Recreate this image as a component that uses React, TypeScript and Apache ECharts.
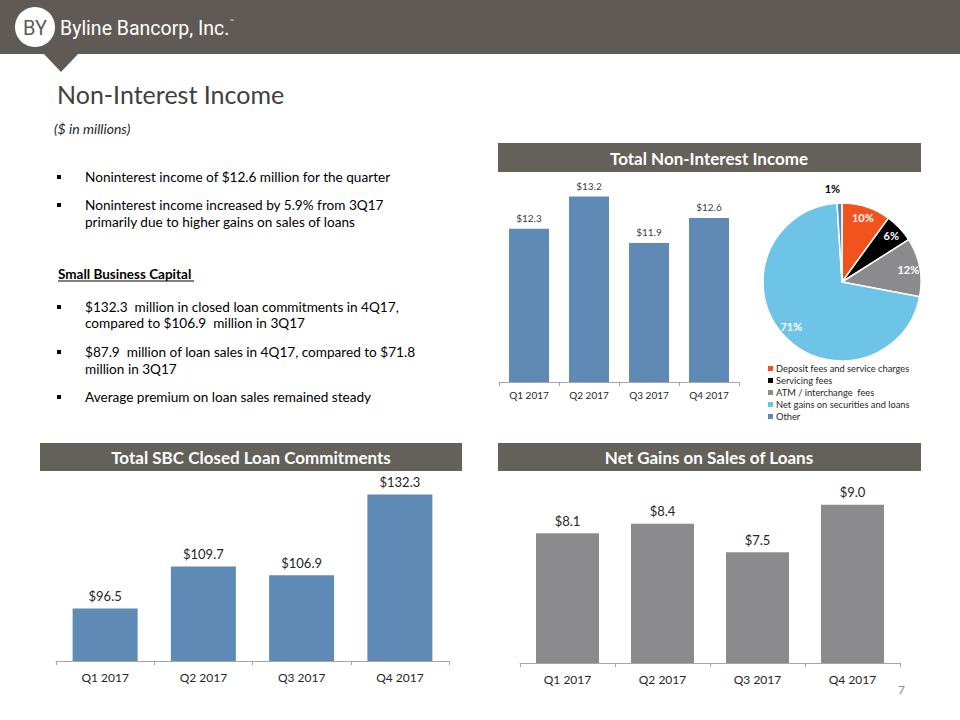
import React, { useEffect, useRef } from "react";
import * as echarts from "echarts";

const quarters = ["Q1 2017", "Q2 2017", "Q3 2017", "Q4 2017"];
const totalNonInterest = [12.3, 13.2, 11.9, 12.6];
const sbcCommitments = [96.5, 109.7, 106.9, 132.3];
const netGainsLoans = [8.1, 8.4, 7.5, 9.0];

const mixNames = [
  "Deposit fees and service charges",
  "Servicing fees",
  "ATM / interchange  fees",
  "Net gains on securities and loans",
  "Other",
];
const mixPct = [10, 6, 12, 71, 1];
const mixColors = ["#f2521b", "#000000", "#8b8b8d", "#6ec4e6", "#5e88b4"];

const bulletLines = [
  { text: "Noninterest income of $12.6 million for the quarter", y: 177, bullet: true },
  { text: "Noninterest income increased by 5.9% from 3Q17", y: 205, bullet: true },
  { text: "primarily due to higher gains on sales of loans", y: 222, bullet: false },
  { text: "$132.3  million in closed loan commitments in 4Q17,", y: 307, bullet: true },
  { text: "compared to $106.9  million in 3Q17", y: 323, bullet: false },
  { text: "$87.9  million of loan sales in 4Q17, compared to $71.8", y: 352, bullet: true },
  { text: "million in 3Q17", y: 369, bullet: false },
  { text: "Average premium on loan sales remained steady", y: 397, bullet: true },
];

const FONT = "Lato, 'Open Sans', sans-serif";
const HEADER = "#5f5a55";
const BAR_HEAD = "#64605a";
const BLUE = "#5f8ab5";
const GRAY = "#8b8b8d";

export default function App() {
  const ref = useRef<HTMLDivElement>(null);
  useEffect(() => {
    if (!ref.current) return;
    const chart = echarts.init(ref.current, undefined, { renderer: "svg" });

    const money = (p: any) => "$" + Number(p.value).toFixed(1);

    const axisX = (gi: number, fs: number, margin: number) => ({
      type: "category",
      gridIndex: gi,
      data: quarters,
      axisLine: { lineStyle: { color: "#a6a6a6", width: 1 } },
      axisTick: { show: true, length: 4, lineStyle: { color: "#a6a6a6" } },
      axisLabel: { color: "#262626", fontSize: fs, fontFamily: FONT, margin },
    });
    const axisY = (gi: number, min: number, max: number) => ({
      type: "value",
      gridIndex: gi,
      min,
      max,
      show: false,
      splitLine: { show: false },
    });

    const graphic: any[] = [
      { type: "rect", shape: { x: 0, y: 0, width: 960, height: 54 }, style: { fill: HEADER } },
      { type: "polygon", shape: { points: [[43, 53], [79, 53], [61, 72]] }, style: { fill: HEADER } },
      { type: "circle", shape: { cx: 35, cy: 27, r: 20 }, style: { fill: "#ffffff" } },
      {
        type: "text",
        x: 35,
        y: 28,
        style: { text: "BY", fill: HEADER, fontSize: 20, fontFamily: "Roboto, sans-serif", align: "center", verticalAlign: "middle" },
      },
      {
        type: "text",
        x: 60,
        y: 28,
        style: { text: "Byline Bancorp, Inc.", fill: "#ffffff", fontSize: 19.5, fontFamily: "Roboto, sans-serif", verticalAlign: "middle" },
      },
      {
        type: "text",
        x: 230,
        y: 21,
        style: { text: "™", fill: "#ffffff", fontSize: 5, fontFamily: FONT, verticalAlign: "middle" },
      },
      {
        type: "text",
        x: 57,
        y: 94,
        style: { text: "Non-Interest Income", fill: "#404040", fontSize: 25, fontFamily: FONT, verticalAlign: "middle" },
      },
      {
        type: "text",
        x: 54,
        y: 128,
        style: { text: "($ in millions)", fill: "#262626", fontSize: 14, fontStyle: "italic", fontFamily: FONT, verticalAlign: "middle" },
      },
      {
        type: "text",
        x: 58,
        y: 274,
        style: { text: "Small Business Capital", fill: "#000000", fontSize: 13.5, fontWeight: "bold", fontFamily: FONT, verticalAlign: "middle" },
      },
      { type: "line", shape: { x1: 58, y1: 281, x2: 194, y2: 281 }, style: { stroke: "#000000", lineWidth: 1 } },
      // chart header bars
      { type: "rect", shape: { x: 498, y: 143, width: 423, height: 29 }, style: { fill: BAR_HEAD } },
      {
        type: "text",
        x: 709,
        y: 158,
        style: { text: "Total Non-Interest Income", fill: "#ffffff", fontSize: 17, fontWeight: "bold", fontFamily: FONT, align: "center", verticalAlign: "middle" },
      },
      { type: "rect", shape: { x: 40, y: 443, width: 422, height: 28 }, style: { fill: BAR_HEAD } },
      {
        type: "text",
        x: 251,
        y: 457,
        style: { text: "Total SBC Closed Loan Commitments", fill: "#ffffff", fontSize: 17, fontWeight: "bold", fontFamily: FONT, align: "center", verticalAlign: "middle" },
      },
      { type: "rect", shape: { x: 498, y: 443, width: 423, height: 28 }, style: { fill: BAR_HEAD } },
      {
        type: "text",
        x: 709,
        y: 457,
        style: { text: "Net Gains on Sales of Loans", fill: "#ffffff", fontSize: 17, fontWeight: "bold", fontFamily: FONT, align: "center", verticalAlign: "middle" },
      },
      {
        type: "text",
        x: 898,
        y: 689,
        style: { text: "7", fill: "#8c8c8c", fontSize: 12, fontFamily: FONT, verticalAlign: "middle" },
      },
    ];
    bulletLines.forEach((b) => {
      if (b.bullet) {
        graphic.push({ type: "rect", shape: { x: 57, y: b.y - 2, width: 4, height: 4 }, style: { fill: "#000000" } });
      }
      graphic.push({
        type: "text",
        x: 85,
        y: b.y,
        style: { text: b.text, fill: "#000000", fontSize: 13.6, fontFamily: FONT, verticalAlign: "middle" },
      });
    });

    chart.setOption({
      animation: false,
      backgroundColor: "#ffffff",
      textStyle: { fontFamily: FONT },
      grid: [
        { left: 499, right: 221, top: 168, bottom: 338 },
        { left: 56, right: 511, top: 470, bottom: 59 },
        { left: 520, right: 60, top: 473, bottom: 57 },
      ],
      xAxis: [axisX(0, 10, 8), axisX(1, 12, 10), axisX(2, 12, 10)],
      yAxis: [axisY(0, 8, 14), axisY(1, 80, 140), axisY(2, 4, 10)],
      legend: {
        orient: "vertical",
        left: 766,
        top: 363,
        data: mixNames,
        itemWidth: 7,
        itemHeight: 7,
        itemGap: 1,
        icon: "rect",
        padding: 0,
        selectedMode: false,
        textStyle: { fontSize: 9.3, lineHeight: 11, color: "#262626", fontFamily: FONT, padding: [0, 0, 0, -3] },
      },
      series: [
        {
          type: "bar",
          xAxisIndex: 0,
          yAxisIndex: 0,
          data: totalNonInterest,
          barWidth: 40,
          itemStyle: { color: BLUE },
          label: { show: true, position: "top", distance: 6, formatter: money, fontSize: 10, color: "#404040", fontFamily: FONT },
        },
        {
          type: "bar",
          xAxisIndex: 1,
          yAxisIndex: 1,
          data: sbcCommitments,
          barWidth: 65,
          itemStyle: { color: BLUE },
          label: { show: true, position: "top", distance: 6, formatter: money, fontSize: 13, color: "#262626", fontFamily: FONT },
        },
        {
          type: "bar",
          xAxisIndex: 2,
          yAxisIndex: 2,
          data: netGainsLoans,
          barWidth: 63,
          itemStyle: { color: GRAY },
          label: { show: true, position: "top", distance: 6, formatter: money, fontSize: 13, color: "#262626", fontFamily: FONT },
        },
        {
          type: "pie",
          center: [842, 282],
          radius: [0, 79],
          startAngle: 90,
          clockwise: true,
          silent: true,
          itemStyle: { borderColor: "#ffffff", borderWidth: 1.5 },
          label: { show: false },
          labelLine: { show: false, length: 15, length2: 0 },
          data: mixNames.map((n, i) => ({
            name: n,
            value: mixPct[i],
            itemStyle: { color: mixColors[i] },
            label:
              n === "Other"
                ? { show: true, position: "outside", formatter: "{c}%", color: "#000000", fontWeight: "bold", fontSize: 11, fontFamily: FONT, offset: [6, 0] }
                : { show: false },
          })),
        },
        {
          type: "pie",
          center: [842, 282],
          radius: [51, 78],
          startAngle: 90,
          clockwise: true,
          silent: true,
          itemStyle: { color: "rgba(0,0,0,0)", borderWidth: 0 },
          label: { show: true, position: "inside", formatter: "{c}%", color: "#ffffff", fontWeight: "bold", fontSize: 11, fontFamily: FONT },
          labelLine: { show: false },
          data: mixNames.map((n, i) => ({
            name: n,
            value: mixPct[i],
            label: n === "Other" ? { show: false } : undefined,
          })),
        },
      ],
      graphic,
    });
    return () => chart.dispose();
  }, []);

  return (
    <div
      ref={ref}
      style={{ position: "fixed", left: 0, top: 0, width: 960, height: 720 }}
    />
  );
}
